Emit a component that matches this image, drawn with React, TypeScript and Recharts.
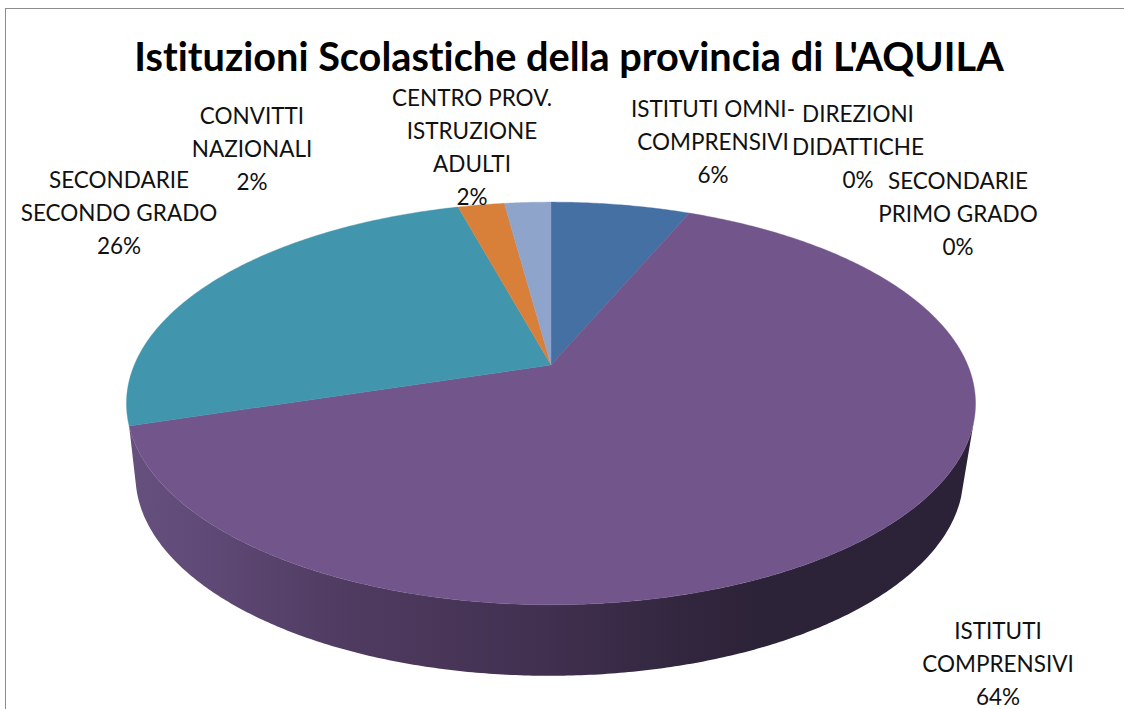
import React from "react";
import { PieChart, Pie, Cell } from "recharts";

const title = "Istituzioni Scolastiche della provincia di L'AQUILA";
const categories = [
  "ISTITUTI OMNI-COMPRENSIVI",
  "DIREZIONI DIDATTICHE",
  "SECONDARIE PRIMO GRADO",
  "ISTITUTI COMPRENSIVI",
  "SECONDARIE SECONDO GRADO",
  "CONVITTI NAZIONALI",
  "CENTRO PROV. ISTRUZIONE ADULTI",
];
const values = [3, 0, 0, 30, 12, 1, 1];
const colors = ["#4570a4", "#4570a4", "#a8433f", "#72568b", "#4195ad", "#d8803a", "#8fa4cb"];

const labelLines = [
  ["ISTITUTI OMNI-", "COMPRENSIVI"],
  ["DIREZIONI", "DIDATTICHE"],
  ["SECONDARIE", "PRIMO GRADO"],
  ["ISTITUTI", "COMPRENSIVI"],
  ["SECONDARIE", "SECONDO GRADO"],
  ["CONVITTI", "NAZIONALI"],
  ["CENTRO PROV.", "ISTRUZIONE", "ADULTI"],
];
// label block: centre x, first baseline
const labelSpots = [
  [713, 117],
  [858, 122],
  [958, 189],
  [998, 639],
  [119, 188],
  [252, 124],
  [472, 106],
];

const data = categories.map((name, i) => ({ name, value: values[i] }));

// perspective of the tilted disc
const TILT = 0.191;
const SQUASH = 194 / 416.7;
const RADIUS = 416.7;
const CX = 551;
const CY = 365;
const FONT = "Lato, 'Open Sans', sans-serif";

const project = (cx: number, cy: number, r: number, deg: number) => {
  const t = (deg * Math.PI) / 180;
  const u = Math.sin(t);
  const v = Math.cos(t);
  const w = 1 + TILT * v;
  return [cx + (r * u) / w, cy - (r * SQUASH * v) / w];
};

// top rim -> rim of the lower face
const lower = (p: number[]) => [
  549 + (p[0] - 550.5) * (414 / 424.5),
  475 + (p[1] - 403) * (200 / 201),
];

const arc = (cx: number, cy: number, r: number, a: number, b: number) => {
  const n = Math.max(2, Math.ceil((b - a) * 2));
  const pts: number[][] = [];
  for (let i = 0; i <= n; i++) pts.push(project(cx, cy, r, a + ((b - a) * i) / n));
  return pts;
};
const toPath = (pts: number[][]) => pts.map((p) => `${p[0].toFixed(2)},${p[1].toFixed(2)}`).join("L");

const Slice = (props: any) => {
  const { cx, cy, outerRadius, startAngle, endAngle, fill } = props;
  const a0 = 90 - startAngle;
  const a1 = 90 - endAngle;
  if (Math.abs(a1 - a0) < 0.001) return <g />;
  const d = `M${cx},${cy}L` + toPath(arc(cx, cy, outerRadius, a0, a1)) + "Z";

  // side wall, only for the part of the rim that faces the viewer
  const w0 = Math.max(a0, 105);
  const w1 = Math.min(a1, 270);
  let wall = null;
  if (w1 > w0 && w0 < 180) {
    const top = arc(cx, cy, outerRadius, w0, w1);
    const bottom = arc(cx, cy, outerRadius, w0 + 2, w1 + 3).map(lower).reverse();
    const wd = "M" + toPath([...top, ...bottom]) + "Z";
    wall = (
      <>
        <defs>
          <linearGradient id="wallShade" gradientUnits="userSpaceOnUse" x1="130" y1="0" x2="975" y2="0">
            <stop offset="0" stopColor="#66517e" />
            <stop offset="0.09" stopColor="#5f4976" />
            <stop offset="0.26" stopColor="#4f3b60" />
            <stop offset="0.49" stopColor="#413050" />
            <stop offset="0.68" stopColor="#30253c" />
            <stop offset="0.74" stopColor="#2d2338" />
            <stop offset="1" stopColor="#2c2237" />
          </linearGradient>
        </defs>
        <path d={wd} fill="url(#wallShade)" />
      </>
    );
  }
  return (
    <g>
      {wall}
      <path d={d} fill={fill} stroke={fill} strokeWidth={0.4} />
    </g>
  );
};

const renderLabel = (props: any) => {
  const { index, percent } = props;
  const [x, y] = labelSpots[index];
  const lines = [...labelLines[index], `${Math.round(percent * 100)}%`];
  return (
    <text
      key={index}
      textAnchor="middle"
      fontFamily={FONT}
      fontSize={22.5}
      fill="#111"
      style={{ fontVariantLigatures: "none" }}
    >
      {lines.map((line, i) => (
        <tspan key={i} x={x} y={y + i * 32.9}>
          {line}
        </tspan>
      ))}
    </text>
  );
};

export default function App() {
  return (
    <div style={{ position: "absolute", left: 0, top: 0, width: 1124, height: 709, overflow: "hidden", background: "#fff" }}>
      <div
        style={{
          position: "absolute",
          left: 5,
          top: 8,
          width: 1200,
          height: 800,
          borderLeft: "1.5px solid #8c8c8c",
          borderTop: "1.5px solid #8c8c8c",
        }}
      />
      <div style={{ position: "absolute", left: 0, top: 0 }}>
        <PieChart width={1124} height={709} margin={{ top: 0, right: 0, bottom: 0, left: 0 }}>
          <text
            x={569}
            y={70.5}
            textAnchor="middle"
            fontFamily={FONT}
            fontWeight={700}
            fontSize={39.7}
            fill="#000"
            style={{ fontVariantLigatures: "none" }}
          >
            {title}
          </text>
          <Pie
            data={data}
            dataKey="value"
            nameKey="name"
            cx={CX}
            cy={CY}
            innerRadius={0}
            outerRadius={RADIUS}
            startAngle={90}
            endAngle={-270}
            stroke="none"
            isAnimationActive={false}
            shape={Slice}
            label={renderLabel}
            labelLine={false}
          >
            {data.map((d, i) => (
              <Cell key={d.name} fill={colors[i]} />
            ))}
          </Pie>
        </PieChart>
      </div>
    </div>
  );
}
